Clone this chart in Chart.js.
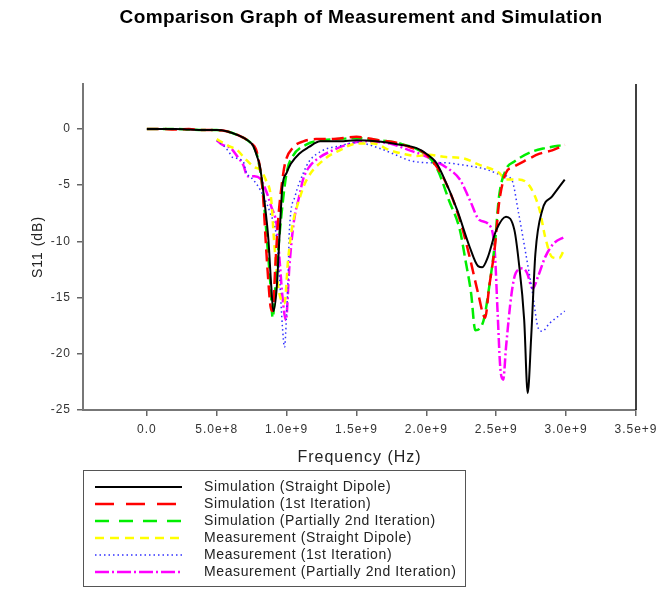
<!DOCTYPE html>
<html>
<head>
<meta charset="utf-8">
<script src="https://cdn.jsdelivr.net/npm/chart.js@4.4.0/dist/chart.umd.min.js"></script>
<style>
    body { margin: 0; background: #fff; font-family: "Liberation Sans", Arial, sans-serif; }
    .wrap { position: relative; width: 659px; height: 589px; }
    #myChart { position: absolute; left: 0; top: 0; }
    .title { position: absolute; left: 0; width: 722px; top: 6px; text-align: center; font-weight: bold; font-size: 19px; letter-spacing: 0.4px; color: #000; }
    .legend-box { position: absolute; left: 83px; top: 470px; width: 383px; height: 117px; border: 1px solid #555; box-sizing: border-box; }
    .legend-row { position: absolute; left: 10px; height: 17px; }
    .legend-row svg { position: absolute; left: 0; top: 0; }
    .legend-row span { position: absolute; left: 110px; top: 0; white-space: nowrap; font-size: 14px; letter-spacing: 0.6px; color: #222; line-height: 17px; }
</style>
</head>
<body>
<div class="wrap">
    <canvas id="myChart" width="659" height="589"></canvas>
    <div class="title">Comparison Graph of Measurement and Simulation</div>
    <div class="legend-box" id="legend"></div>
</div>
<script>
// frequency in GHz, S11 in dB
const simStraightF = [0, 0.1, 0.2, 0.3, 0.4, 0.5, 0.57, 0.66, 0.72, 0.76, 0.79, 0.81, 0.84, 0.87, 0.89, 0.905, 0.93, 0.95, 0.97, 1.0, 1.03, 1.09, 1.16, 1.24, 1.38, 1.50, 1.64, 1.81, 1.93, 2.0, 2.07, 2.12, 2.22, 2.31, 2.37, 2.40, 2.44, 2.50, 2.57, 2.63, 2.66, 2.70, 2.725, 2.75, 2.78, 2.83, 2.90, 2.99];
const simStraightDb = [0, 0, 0, -0.05, -0.1, -0.1, -0.2, -0.6, -1.0, -1.5, -2.5, -3.4, -6.3, -9.9, -14, -16.2, -14, -9.3, -5.1, -3.9, -3.1, -2.2, -1.6, -1.1, -1.1, -1.0, -1.1, -1.4, -1.7, -2.2, -3.0, -4.2, -7.2, -10.5, -12.2, -12.3, -11.4, -9, -7.8, -9, -11.7, -17, -23.5, -18.5, -11.1, -7.2, -6, -4.5];

const simIter1F = [0, 0.1, 0.2, 0.3, 0.4, 0.5, 0.57, 0.66, 0.72, 0.75, 0.79, 0.83, 0.85, 0.865, 0.885, 0.9, 0.92, 0.94, 0.97, 0.99, 1.05, 1.12, 1.21, 1.31, 1.50, 1.66, 1.78, 1.90, 1.97, 2.04, 2.14, 2.24, 2.31, 2.37, 2.42, 2.45, 2.49, 2.52, 2.57, 2.62, 2.71, 2.81, 2.90, 2.99];
const simIter1Db = [0, 0, -0.05, 0, -0.1, -0.1, -0.2, -0.6, -1.0, -1.3, -2.2, -5.7, -9.9, -12.8, -15.8, -16.2, -12, -8, -4.5, -3.0, -1.6, -1.1, -0.9, -0.9, -0.7, -1.0, -1.2, -1.7, -2.0, -2.8, -4.8, -8.1, -11.4, -14.6, -16.8, -14, -10.5, -6.6, -3.9, -3.4, -2.8, -2.2, -1.9, -1.4];

const simIter2F = [0, 0.1, 0.2, 0.3, 0.4, 0.5, 0.57, 0.66, 0.72, 0.76, 0.79, 0.83, 0.86, 0.885, 0.9, 0.92, 0.95, 1.0, 1.04, 1.14, 1.26, 1.38, 1.50, 1.66, 1.81, 1.95, 2.04, 2.09, 2.16, 2.24, 2.28, 2.32, 2.35, 2.41, 2.45, 2.49, 2.52, 2.57, 2.63, 2.76, 2.85, 2.99];
const simIter2Db = [0, 0, 0, -0.05, -0.1, -0.1, -0.2, -0.6, -1.0, -1.5, -2.4, -5.5, -10, -14, -16.8, -14, -9.3, -3.9, -2.5, -1.4, -1.0, -0.9, -0.8, -1.0, -1.3, -1.9, -2.8, -3.9, -6.3, -9, -11.7, -14.6, -17.9, -17, -14, -10.2, -6, -3.6, -2.9, -2.0, -1.7, -1.4];

const measStraightF = [0.5, 0.54, 0.6, 0.64, 0.70, 0.77, 0.81, 0.85, 0.89, 0.91, 0.94, 0.96, 0.985, 1.01, 1.04, 1.09, 1.14, 1.26, 1.38, 1.50, 1.62, 1.74, 1.83, 1.93, 2.02, 2.14, 2.26, 2.38, 2.52, 2.57, 2.66, 2.74, 2.81, 2.85, 2.90, 2.95, 2.98];
const measStraightDb = [-0.9, -1.2, -1.6, -1.8, -2.6, -3.4, -3.6, -4.5, -6.3, -9.9, -14, -15.2, -15.5, -11.7, -8.7, -6.3, -4.6, -2.8, -1.9, -1.3, -1.3, -1.9, -2.2, -2.4, -2.3, -2.5, -2.6, -3.2, -3.9, -4.5, -4.5, -5.1, -7.2, -9.6, -11.4, -11.5, -10.9];

const measIter1F = [0.5, 0.55, 0.59, 0.61, 0.69, 0.71, 0.76, 0.81, 0.88, 0.93, 0.95, 0.97, 0.985, 1.0, 1.01, 1.02, 1.06, 1.12, 1.16, 1.26, 1.38, 1.50, 1.66, 1.78, 1.88, 2.02, 2.11, 2.26, 2.43, 2.54, 2.61, 2.66, 2.71, 2.76, 2.80, 2.83, 2.88, 2.94, 2.99];
const measIter1Db = [-1.0, -1.5, -2.1, -2.5, -2.9, -3.8, -4.5, -5.4, -7.4, -9.9, -13.4, -17.6, -19.4, -16.4, -13.4, -9.0, -6.0, -3.9, -2.9, -1.9, -1.5, -1.2, -1.7, -2.3, -2.8, -3.0, -3.0, -3.2, -3.6, -4.1, -4.5, -7.5, -11, -14.6, -17.7, -18.0, -17.3, -16.7, -16.2];

const measIter2F = [0.5, 0.54, 0.6, 0.65, 0.69, 0.72, 0.77, 0.81, 0.85, 0.89, 0.93, 0.95, 0.97, 0.995, 1.02, 1.05, 1.09, 1.12, 1.16, 1.24, 1.33, 1.43, 1.55, 1.74, 1.88, 1.97, 2.07, 2.14, 2.24, 2.31, 2.38, 2.46, 2.49, 2.51, 2.53, 2.55, 2.57, 2.61, 2.64, 2.69, 2.72, 2.76, 2.80, 2.85, 2.91, 2.99];
const measIter2Db = [-1.0, -1.4, -1.7, -2.5, -3.2, -4.2, -4.2, -4.4, -5.4, -6.9, -8.7, -11.7, -14.9, -17.0, -12.2, -8.4, -6.0, -4.4, -3.4, -2.5, -1.9, -1.4, -1.1, -1.3, -1.9, -2.3, -2.9, -3.4, -4.5, -6.3, -8.1, -8.7, -11, -16.4, -21.4, -22.3, -19.4, -14.6, -12.8, -12.4, -12.8, -14.2, -13.1, -11.4, -10.2, -9.6];

const seriesNames = ['Simulation (Straight Dipole)', 'Simulation (1st Iteration)', 'Simulation (Partially 2nd Iteration)',
    'Measurement (Straight Dipole)', 'Measurement (1st Iteration)', 'Measurement (Partially 2nd Iteration)'];

const xTicks = [0, 5e8, 1e9, 1.5e9, 2e9, 2.5e9, 3e9, 3.5e9];
const xTickLabels = ['0.0', '5.0e+8', '1.0e+9', '1.5e+9', '2.0e+9', '2.5e+9', '3.0e+9', '3.5e+9'];
const yTicks = [0, -5, -10, -15, -20, -25];

const styles = [
    { color: '#000000', dash: [], width: 2, legendDash: '' },
    { color: '#ff0000', dash: [12, 6], width: 2.5, legendDash: '19 12' },
    { color: '#00ee00', dash: [11, 5], width: 2.5, legendDash: '14 10' },
    { color: '#ffff00', dash: [7, 5], width: 2.5, legendDash: '9 6' },
    { color: '#3030ff', dash: [1.5, 3], width: 1.5, legendDash: '1.5 3' },
    { color: '#ff00ff', dash: [10, 3, 2, 3], width: 2.5, legendDash: '14 3 2 3' },
];

const allF = [simStraightF, simIter1F, simIter2F, measStraightF, measIter1F, measIter2F];
const allDb = [simStraightDb, simIter1Db, simIter2Db, measStraightDb, measIter1Db, measIter2Db];

const datasets = seriesNames.map((name, i) => ({
    label: name,
    data: allF[i].map((f, j) => ({ x: f * 1e9, y: allDb[i][j] })),
    borderColor: styles[i].color,
    borderDash: styles[i].dash,
    borderWidth: styles[i].width,
    pointRadius: 0,
    fill: false,
    cubicInterpolationMode: 'monotone'
}));

const fontFamily = '"Liberation Sans", Arial, sans-serif';
const tickFont = { family: fontFamily, size: 12 };

// the reference spaces its axis text out a little
const spacedText = {
    id: 'spacedText',
    beforeDraw(chart) { chart.ctx.letterSpacing = '1px'; }
};

// plain black line on the right edge of the plot
const rightEdge = {
    id: 'rightEdge',
    afterDraw(chart) {
        const { ctx, chartArea } = chart;
        ctx.save();
        ctx.strokeStyle = '#000';
        ctx.lineWidth = 1.5;
        ctx.beginPath();
        ctx.moveTo(chartArea.right, chartArea.top);
        ctx.lineTo(chartArea.right, chartArea.bottom);
        ctx.stroke();
        ctx.restore();
    }
};

const config = {
    type: 'line',
    data: { datasets: datasets },
    options: {
        responsive: false,
        animation: false,
        layout: { padding: { left: 0, top: 84, right: 23, bottom: 119 } },
        plugins: { legend: { display: false }, tooltip: { enabled: false } },
        scales: {
            x: {
                type: 'linear',
                min: -4.57e8,
                max: 3.5e9,
                afterBuildTicks: (scale) => { scale.ticks = xTicks.map(v => ({ value: v })); },
                afterFit: (scale) => {
                    scale.height = 60;
                    scale.paddingLeft = 0;
                    scale.paddingRight = 0;
                },
                ticks: {
                    color: '#333',
                    font: tickFont,
                    padding: 6,
                    maxRotation: 0,
                    callback: (value) => xTickLabels[xTicks.indexOf(value)]
                },
                grid: { drawOnChartArea: false, drawTicks: true, tickLength: 6, color: '#666', lineWidth: 1.5 },
                border: { display: true, color: '#777', width: 2 },
                title: { display: true, text: 'Frequency (Hz)', color: '#222', font: { family: fontFamily, size: 16 }, padding: { top: 0, bottom: 3 } }
            },
            y: {
                type: 'linear',
                min: -25,
                max: 4,
                afterBuildTicks: (scale) => { scale.ticks = yTicks.map(v => ({ value: v })); },
                afterFit: (scale) => { scale.width = 83; },
                ticks: { color: '#333', font: tickFont, padding: 6 },
                grid: { drawOnChartArea: false, drawTicks: true, tickLength: 6, color: '#666', lineWidth: 1.5 },
                border: { display: true, color: '#777', width: 2 },
                title: { display: true, text: 'S11 (dB)', color: '#222', font: { family: fontFamily, size: 14 }, padding: { top: 30, bottom: 0 } }
            }
        }
    },
    plugins: [spacedText, rightEdge]
};

const ctx = document.getElementById('myChart').getContext('2d');
const myChart = new Chart(ctx, config);

// legend drawn as html rows with svg line samples
const legend = document.getElementById('legend');
seriesNames.forEach((name, i) => {
    const row = document.createElement('div');
    row.classList.add('legend-row');
    row.style.top = (7 + i * 17) + 'px';
    const st = styles[i];
    row.innerHTML = `
        <svg width="90" height="17"><line x1="1" y1="9" x2="88" y2="9" stroke="${st.color}" stroke-width="${st.width}" stroke-dasharray="${st.legendDash}"/></svg>
        <span>${name}</span>`;
    legend.appendChild(row);
});
</script>
</body>
</html>
